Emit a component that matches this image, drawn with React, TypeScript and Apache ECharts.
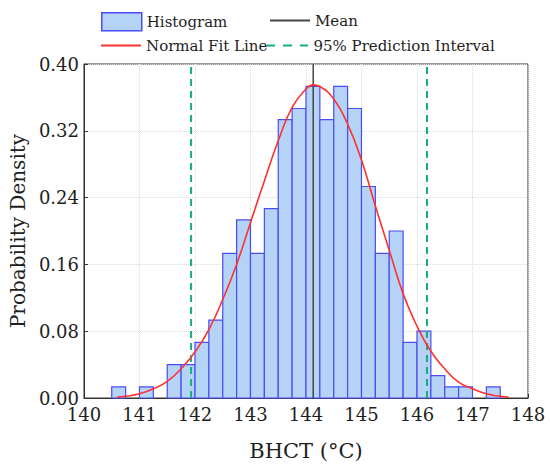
import React, { useEffect, useRef } from "react";
import * as echarts from "echarts";

// Histogram bins (width 0.25) – left edges and probability densities
const binStarts = [
  140.5, 140.75, 141.0, 141.25, 141.5, 141.75, 142.0, 142.25, 142.5, 142.75,
  143.0, 143.25, 143.5, 143.75, 144.0, 144.25, 144.5, 144.75, 145.0, 145.25,
  145.5, 145.75, 146.0, 146.25, 146.5, 146.75, 147.0, 147.25,
];
const binWidth = 0.25;
const densities = [
  0.0133, 0, 0.0133, 0, 0.04, 0.04, 0.0667, 0.0933, 0.1733, 0.2133,
  0.1733, 0.2267, 0.3333, 0.3467, 0.3733, 0.3333, 0.3733, 0.3467, 0.2533, 0.1733,
  0.2, 0.0667, 0.08, 0.0267, 0.0133, 0.0133, 0, 0.0133,
];

// Normal fit line
const fitX = [
  140.6, 140.75, 141.0, 141.25, 141.5, 141.75, 142.0, 142.25, 142.5, 142.75,
  143.0, 143.25, 143.5, 143.75, 144.0, 144.13, 144.25, 144.5, 144.75, 145.0,
  145.25, 145.5, 145.75, 146.0, 146.25, 146.5, 146.75, 147.0, 147.25, 147.5, 147.65,
];
const fitY = [
  0.001, 0.002, 0.005, 0.011, 0.02, 0.035, 0.055, 0.082, 0.118, 0.16,
  0.21, 0.26, 0.308, 0.348, 0.37, 0.375, 0.373, 0.358, 0.328, 0.285,
  0.23, 0.177, 0.125, 0.086, 0.056, 0.035, 0.019, 0.011, 0.005, 0.002, 0.001,
];

const meanValue = 144.13;
const predictionInterval = [141.93, 146.18];

const xTicks = { min: 140, max: 148, interval: 1 };
const yTicks = { min: 0, max: 0.4, interval: 0.08 };

const FONT = "DejaVu Serif";
const TEXT = "#1e1e1e";
const BAR_FILL = "#b5d3f6";
const BAR_EDGE = "#4a4cf5";
const RED = "#ff3030";
const GREEN = "#17ad7c";
const MEAN_COLOR = "#444444";

const SOLID_ICON = "path://M0,0h40v2h-40z";
const DASH_ICON = "path://M0,0h8v2h-8z M16,0h9v2h-9z M33,0h8v2h-8z";

export default function App() {
  const ref = useRef<HTMLDivElement>(null);

  useEffect(() => {
    document.body.style.margin = "0";
    const chart = echarts.init(ref.current!, null, { renderer: "svg" });

    const histData = binStarts.map((s, i) => [s, s + binWidth, densities[i]]);
    const fitData = fitX.map((x, i) => [x, fitY[i]]);

    const legendText = { fontFamily: FONT, fontSize: 15, color: TEXT };

    chart.setOption({
      animation: false,
      textStyle: { fontFamily: FONT },
      grid: {
        left: 77,
        right: 22,
        top: 64,
        bottom: 71,
        show: true,
        borderColor: "#333",
        borderWidth: 1,
      },
      legend: [
        {
          left: 96,
          top: 7,
          itemWidth: 40,
          itemHeight: 18,
          textStyle: legendText,
          data: [
            {
              name: "Histogram",
              icon: "rect",
              itemStyle: { color: BAR_FILL, borderColor: BAR_EDGE, borderWidth: 1.5 },
            },
          ],
        },
        {
          left: 265,
          top: 8,
          itemWidth: 40,
          itemHeight: 2,
          textStyle: legendText,
          data: [{ name: "Mean", icon: SOLID_ICON }],
        },
        {
          left: 96,
          top: 33,
          itemWidth: 40,
          itemHeight: 2,
          textStyle: legendText,
          data: [{ name: "Normal Fit Line", icon: SOLID_ICON }],
        },
        {
          left: 262,
          top: 33,
          itemWidth: 42,
          itemHeight: 2,
          textStyle: legendText,
          data: [{ name: "95% Prediction Interval", icon: DASH_ICON }],
        },
      ],
      xAxis: {
        type: "value",
        min: xTicks.min,
        max: xTicks.max,
        interval: xTicks.interval,
        name: "BHCT (°C)",
        nameLocation: "middle",
        nameGap: 42,
        nameTextStyle: { fontFamily: FONT, fontSize: 21, color: TEXT },
        axisLine: { show: true, onZero: false, lineStyle: { color: "#333", width: 1 } },
        axisTick: { show: true, inside: true, length: 4, lineStyle: { color: "#333" } },
        axisLabel: { fontFamily: FONT, fontSize: 18, color: TEXT, margin: 7 },
        splitLine: { show: true, lineStyle: { color: "#dcdcdc", type: "dotted", width: 1 } },
      },
      yAxis: {
        type: "value",
        min: yTicks.min,
        max: yTicks.max,
        interval: yTicks.interval,
        name: "Probability Density",
        nameLocation: "middle",
        nameGap: 50,
        nameTextStyle: { fontFamily: FONT, fontSize: 20, color: TEXT },
        axisLine: { show: true, lineStyle: { color: "#333", width: 1 } },
        axisTick: { show: true, inside: true, length: 4, lineStyle: { color: "#333" } },
        axisLabel: {
          fontFamily: FONT,
          fontSize: 18,
          color: TEXT,
          margin: 5,
          formatter: (v: number) => v.toFixed(2),
        },
        splitLine: { show: true, lineStyle: { color: "#dcdcdc", type: "dotted", width: 1 } },
      },
      series: [
        {
          name: "Histogram",
          type: "custom",
          itemStyle: { color: BAR_FILL, borderColor: BAR_EDGE, borderWidth: 1.2 },
          encode: { x: [0, 1], y: 2 },
          renderItem: (params: any, api: any) => {
            const x0 = api.value(0);
            const x1 = api.value(1);
            const y = api.value(2);
            if (!y) return null;
            const p0 = api.coord([x0, y]);
            const p1 = api.coord([x1, 0]);
            return {
              type: "rect",
              shape: { x: p0[0], y: p0[1], width: p1[0] - p0[0], height: p1[1] - p0[1] },
              style: { fill: BAR_FILL, stroke: BAR_EDGE, lineWidth: 1.2 },
            };
          },
          data: histData,
          z: 1,
        },
        {
          name: "Normal Fit Line",
          type: "line",
          data: fitData,
          smooth: true,
          showSymbol: false,
          symbol: "none",
          lineStyle: { color: RED, width: 1.6 },
          itemStyle: { color: RED },
          z: 4,
        },
        {
          name: "Mean",
          type: "line",
          data: [
            [meanValue, yTicks.min],
            [meanValue, yTicks.max],
          ],
          showSymbol: false,
          symbol: "none",
          lineStyle: { color: MEAN_COLOR, width: 1.5 },
          itemStyle: { color: MEAN_COLOR },
          z: 3,
        },
        ...predictionInterval.map((v) => ({
          name: "95% Prediction Interval",
          type: "line",
          data: [
            [v, yTicks.min],
            [v, yTicks.max],
          ],
          showSymbol: false,
          symbol: "none",
          lineStyle: { color: GREEN, width: 2, type: [7, 5] },
          itemStyle: { color: GREEN },
          z: 3,
        })),
      ],
    });

    return () => chart.dispose();
  }, []);

  return <div ref={ref} style={{ width: 550, height: 469 }} />;
}
